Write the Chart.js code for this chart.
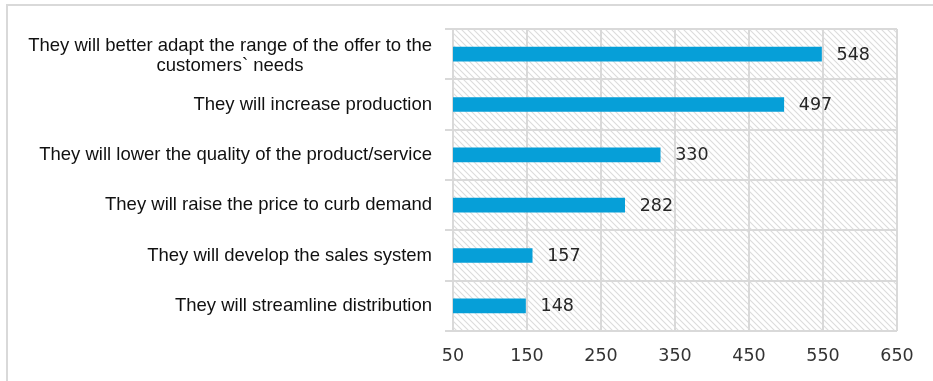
<!DOCTYPE html>
<html>
<head>
<meta charset="utf-8">
<script src="https://cdn.jsdelivr.net/npm/chart.js@4"></script>
<style>
  html, body { margin: 0; padding: 0; background: #fff; }
  #wrap { width: 933px; height: 381px; position: relative; }
</style>
</head>
<body>
<div id="wrap"><canvas id="c" width="933" height="381"></canvas></div>
<script>
// Survey answers: how enterprises would react (number of responses)
const categories = [
  ['They will better adapt the range of the offer to the', 'customers` needs'],
  'They will increase production',
  'They will lower the quality of the product/service',
  'They will raise the price to curb demand',
  'They will develop the sales system',
  'They will streamline distribution'
];
const responses = [548, 497, 330, 282, 157, 148];
const axisMin = 50;
const axisMax = 650;
const axisStep = 100;

const BAR_COLOR = '#069fd8';
const GRID_COLOR = '#d9d9d9';
const LABEL_FONT = '18.5px "Liberation Sans", Arial, sans-serif';
const VALUE_FONT = '17.5px "DejaVu Sans", sans-serif';

// diagonal hatch tile for the plot background
function makeHatch() {
  const t = document.createElement('canvas');
  t.width = 6; t.height = 6;
  const g = t.getContext('2d');
  g.fillStyle = '#ffffff';
  g.fillRect(0, 0, 6, 6);
  g.strokeStyle = '#dcdcdc';
  g.lineWidth = 1.1;
  g.beginPath();
  g.moveTo(-1, -1); g.lineTo(7, 7);
  g.moveTo(-4, 2); g.lineTo(4, 10);
  g.moveTo(2, -4); g.lineTo(10, 4);
  g.stroke();
  return t;
}

const decorPlugin = {
  id: 'decor',
  beforeDraw(chart) {
    const { ctx, chartArea: a } = chart;
    ctx.save();
    // outer frame (top and left edges)
    ctx.strokeStyle = GRID_COLOR;
    ctx.lineWidth = 2;
    ctx.beginPath();
    ctx.moveTo(933, 5); ctx.lineTo(7, 5); ctx.lineTo(7, 381);
    ctx.stroke();
    // hatched plot area
    ctx.fillStyle = ctx.createPattern(makeHatch(), 'repeat');
    ctx.fillRect(a.left, a.top, a.right - a.left, a.bottom - a.top);
    ctx.restore();
  },
  afterDraw(chart) {
    const { ctx } = chart;
    const yScale = chart.scales.y;
    ctx.save();
    // category labels: block right-aligned, wrapped lines centred on each other
    ctx.font = LABEL_FONT;
    ctx.fillStyle = '#111';
    ctx.textBaseline = 'middle';
    ctx.textAlign = 'center';
    const rightEdge = yScale.right - 21;
    const lineH = 20;
    categories.forEach((lab, i) => {
      const lines = Array.isArray(lab) ? lab : [lab];
      const widths = lines.map(l => ctx.measureText(l).width);
      const maxW = Math.max(...widths);
      const cx = rightEdge - maxW / 2;
      const yc = yScale.getPixelForTick(i) + (lines.length > 1 ? 2 : 0);
      const y0 = yc - (lines.length - 1) * lineH / 2;
      lines.forEach((l, k) => ctx.fillText(l, cx, y0 + k * lineH));
    });
    // value labels at the end of each bar
    ctx.font = VALUE_FONT;
    ctx.fillStyle = '#262626';
    ctx.textAlign = 'left';
    const meta = chart.getDatasetMeta(0);
    meta.data.forEach((bar, i) => {
      ctx.fillText(String(responses[i]), bar.x + 15, bar.y + 1);
    });
    ctx.restore();
  }
};

new Chart(document.getElementById('c'), {
  type: 'bar',
  data: {
    labels: categories,
    datasets: [{
      data: responses,
      backgroundColor: BAR_COLOR,
      borderWidth: 0,
      barThickness: 14
    }]
  },
  options: {
    indexAxis: 'y',
    responsive: false,
    animation: false,
    events: [],
    layout: { padding: { top: 29, right: 36, bottom: 0, left: 0 } },
    plugins: {
      legend: { display: false },
      title: { display: false },
      tooltip: { enabled: false }
    },
    scales: {
      x: {
        min: axisMin,
        max: axisMax,
        border: { display: false },
        grid: { color: GRID_COLOR, lineWidth: 2, drawTicks: false },
        ticks: {
          stepSize: axisStep,
          padding: 15,
          color: '#333',
          font: { family: '"DejaVu Sans", sans-serif', size: 17.5 }
        },
        afterFit(scale) { scale.height = 50; }
      },
      y: {
        border: { display: false },
        grid: { color: GRID_COLOR, lineWidth: 2, offset: true, tickLength: 8 },
        ticks: { display: false },
        afterFit(scale) { scale.width = 453; }
      }
    }
  },
  plugins: [decorPlugin]
});
</script>
</body>
</html>
